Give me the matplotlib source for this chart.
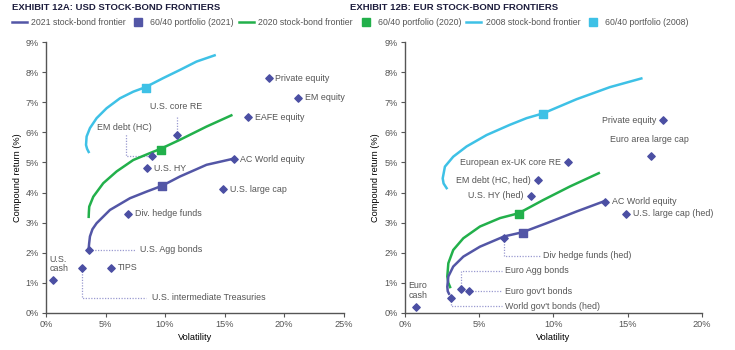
import matplotlib
matplotlib.use("Agg")
import matplotlib.pyplot as plt
from matplotlib.lines import Line2D
from matplotlib.ticker import FuncFormatter

plt.rcParams.update({
    "font.family": ["Liberation Sans", "DejaVu Sans"],
    "font.size": 6.5,
    "axes.edgecolor": "#555555",
    "xtick.color": "#555555",
    "ytick.color": "#555555",
    "text.color": "#555555",
})

NAVY = "#5356a6"
DIAM = "#4b4fa3"
GREEN = "#22b04b"
CYAN = "#3ec1e6"
LEAD = "#9a9ad0"

# ---------------- USD panel data (volatility %, return %) ----------------
usd_2021_vol = [3.58, 3.62, 3.69, 3.9, 4.25, 5.37, 7.05, 8.45, 9.73, 11.24, 13.48, 15.71]
usd_2021_ret = [2.12, 2.3, 2.54, 2.78, 2.98, 3.42, 3.81, 4.03, 4.22, 4.53, 4.92, 5.12]
usd_2020_vol = [3.58, 3.6, 3.63, 3.97, 4.81, 5.93, 7.33, 8.86, 9.62, 11.24, 13.48, 15.66]
usd_2020_ret = [3.15, 3.35, 3.53, 3.86, 4.31, 4.7, 5.08, 5.33, 5.45, 5.75, 6.19, 6.58]
usd_2008_vol = [3.63, 3.45, 3.36, 3.41, 3.69, 4.25, 5.09, 6.21, 7.33, 8.36, 9.84, 11.24, 12.64, 14.26]
usd_2008_ret = [5.31, 5.45, 5.58, 5.86, 6.14, 6.47, 6.8, 7.13, 7.35, 7.5, 7.8, 8.07, 8.35, 8.57]
usd_6040 = {"2021": (9.73, 4.2), "2020": (9.62, 5.42), "2008": (8.36, 7.47)}

usd_names = ["Private equity", "EM equity", "EAFE equity", "U.S. core RE", "EM debt (HC)",
             "U.S. HY", "AC World equity", "U.S. large cap", "Div. hedge funds",
             "U.S. Agg bonds", "TIPS", "U.S. intermediate Treasuries", "U.S.\ncash"]
usd_vol = [18.7, 21.2, 17.0, 11.0, 8.9, 8.5, 15.75, 14.9, 6.9, 3.58, 5.45, 3.0, 0.6]
usd_ret = [7.8, 7.15, 6.5, 5.9, 5.2, 4.8, 5.1, 4.1, 3.3, 2.1, 1.5, 1.5, 1.1]

# ---------------- EUR panel data ----------------
eur_2021_vol = [3.0, 2.88, 2.85, 2.92, 3.25, 3.93, 5.05, 6.67, 7.92, 9.54, 11.56, 13.47]
eur_2021_ret = [0.6, 0.72, 0.87, 1.21, 1.54, 1.87, 2.2, 2.54, 2.68, 2.98, 3.37, 3.72]
eur_2020_vol = [3.07, 2.92, 2.85, 2.92, 3.25, 3.93, 5.05, 6.4, 7.65, 9.31, 11.11, 13.13]
eur_2020_ret = [0.82, 1.0, 1.21, 1.65, 2.09, 2.48, 2.87, 3.15, 3.31, 3.75, 4.2, 4.66]
eur_2008_vol = [2.85, 2.6, 2.54, 2.69, 3.25, 4.15, 5.5, 7.07, 8.19, 9.31, 11.56, 13.8, 16.0]
eur_2008_ret = [4.11, 4.3, 4.47, 4.86, 5.19, 5.53, 5.91, 6.25, 6.47, 6.63, 7.1, 7.5, 7.8]
eur_6040 = {"2021": (7.95, 2.66), "2020": (7.68, 3.3), "2008": (9.31, 6.6)}

eur_names = ["Private equity", "Euro area large cap", "European ex-UK core RE",
             "EM debt (HC, hed)", "U.S. HY (hed)", "AC World equity", "U.S. large cap (hed)",
             "Div hedge funds (hed)", "Euro Agg bonds", "Euro gov't bonds",
             "World gov't bonds (hed)", "Euro\ncash"]
eur_vol = [17.4, 16.6, 11.0, 8.95, 8.5, 13.5, 14.9, 6.7, 3.8, 4.3, 3.1, 0.75]
eur_ret = [6.4, 5.2, 5.0, 4.4, 3.9, 3.7, 3.3, 2.5, 0.8, 0.72, 0.5, 0.2]

fig = plt.figure(figsize=(7.35, 3.5), dpi=100)
ax1 = fig.add_axes([0.0626, 0.106, 0.405, 0.774])
ax2 = fig.add_axes([0.551, 0.106, 0.404, 0.774])

pct = FuncFormatter(lambda v, _: f"{v:.0f}%")


def style(ax, xmax, xstep):
    ax.set_xlim(0, xmax)
    ax.set_ylim(0, 9)
    ax.set_xticks(range(0, xmax + 1, xstep))
    ax.set_yticks(range(0, 10))
    ax.xaxis.set_major_formatter(pct)
    ax.yaxis.set_major_formatter(pct)
    for s in ["top", "right"]:
        ax.spines[s].set_visible(False)
    ax.spines["left"].set_linewidth(1.0)
    ax.spines["bottom"].set_linewidth(1.0)
    ax.tick_params(length=3, width=0.8, labelsize=6.6, pad=2)
    ax.set_xlabel("Volatility", fontsize=6.6, labelpad=3)
    ax.set_ylabel("Compound return (%)", fontsize=6.6, labelpad=3)


def frontiers(ax, f21, f20, f08, p):
    kw = dict(lw=1.8, solid_capstyle="butt", solid_joinstyle="round", zorder=2)
    ax.plot(*f08, color=CYAN, **kw)
    ax.plot(*f20, color=GREEN, **kw)
    ax.plot(*f21, color=NAVY, **kw)
    ax.scatter(*p["2008"], marker="s", s=40, color=CYAN, zorder=4)
    ax.scatter(*p["2020"], marker="s", s=40, color=GREEN, zorder=4)
    ax.scatter(*p["2021"], marker="s", s=40, color=NAVY, zorder=4)


def lead(ax, xs, ys):
    ax.plot(xs, ys, color=LEAD, lw=0.9, ls=(0, (1, 1.2)), zorder=1)


style(ax1, 25, 5)
frontiers(ax1, (usd_2021_vol, usd_2021_ret), (usd_2020_vol, usd_2020_ret),
          (usd_2008_vol, usd_2008_ret), usd_6040)
ax1.scatter(usd_vol, usd_ret, marker="D", s=14, color=DIAM, zorder=3)

fs = 6.4
u = dict(zip(usd_names, zip(usd_vol, usd_ret)))
for n in ["Private equity", "EM equity", "EAFE equity", "U.S. HY", "AC World equity",
          "U.S. large cap", "Div. hedge funds", "TIPS"]:
    x, y = u[n]
    ax1.text(x + 0.55, y, n, fontsize=fs, va="center", ha="left")
x, y = u["U.S. core RE"]
lead(ax1, [x, x], [y + 0.1, 6.55])
ax1.text(x - 0.1, 6.85, "U.S. core RE", fontsize=fs, ha="center", va="center")
x, y = u["EM debt (HC)"]
lead(ax1, [x - 0.2, 6.7, 6.7], [y, y, 5.95])
ax1.text(6.6, 6.15, "EM debt (HC)", fontsize=fs, ha="center", va="center")
x, y = u["U.S. Agg bonds"]
lead(ax1, [x + 0.3, 7.5], [y, y])
ax1.text(7.9, y, "U.S. Agg bonds", fontsize=fs, va="center")
x, y = u["U.S. intermediate Treasuries"]
lead(ax1, [x, x, 8.4], [y - 0.1, 0.5, 0.5])
ax1.text(8.9, 0.5, "U.S. intermediate Treasuries", fontsize=fs, va="center")
ax1.text(0.3, 1.62, "U.S.\ncash", fontsize=fs, va="center", ha="left", linespacing=1.1)

style(ax2, 20, 5)
frontiers(ax2, (eur_2021_vol, eur_2021_ret), (eur_2020_vol, eur_2020_ret),
          (eur_2008_vol, eur_2008_ret), eur_6040)
ax2.scatter(eur_vol, eur_ret, marker="D", s=14, color=DIAM, zorder=3)

e = dict(zip(eur_names, zip(eur_vol, eur_ret)))
for n in ["Private equity", "European ex-UK core RE", "EM debt (HC, hed)", "U.S. HY (hed)"]:
    x, y = e[n]
    ax2.text(x - 0.5, y, n, fontsize=fs, va="center", ha="right")
for n in ["AC World equity", "U.S. large cap (hed)"]:
    x, y = e[n]
    ax2.text(x + 0.45, y, n, fontsize=fs, va="center", ha="left")
x, y = e["Euro area large cap"]
ax2.text(x - 0.15, 5.75, "Euro area large cap", fontsize=fs, ha="center", va="center")
x, y = e["Div hedge funds (hed)"]
lead(ax2, [x, x, 9.1], [y - 0.1, 1.9, 1.9])
ax2.text(9.3, 1.9, "Div hedge funds (hed)", fontsize=fs, va="center")
x, y = e["Euro Agg bonds"]
lead(ax2, [x, x, 6.55], [y + 0.1, 1.4, 1.4])
ax2.text(6.75, 1.4, "Euro Agg bonds", fontsize=fs, va="center")
x, y = e["Euro gov't bonds"]
lead(ax2, [x + 0.2, 6.55], [y, y])
ax2.text(6.75, y, "Euro gov't bonds", fontsize=fs, va="center")
x, y = e["World gov't bonds (hed)"]
lead(ax2, [x, x, 6.55], [y - 0.1, 0.22, 0.22])
ax2.text(6.75, 0.22, "World gov't bonds (hed)", fontsize=fs, va="center")
ax2.text(0.25, 0.75, "Euro\ncash", fontsize=fs, va="center", ha="left", linespacing=1.1)

# titles
fig.text(0.017, 0.978, "EXHIBIT 12A: USD STOCK-BOND FRONTIERS", fontsize=6.8,
         fontweight="bold", color="#1d1d3d", va="center")
fig.text(0.476, 0.978, "EXHIBIT 12B: EUR STOCK-BOND FRONTIERS", fontsize=6.8,
         fontweight="bold", color="#1d1d3d", va="center")

handles = [
    Line2D([], [], color=NAVY, lw=1.8),
    Line2D([], [], color=NAVY, marker="s", ls="none", ms=5.5),
    Line2D([], [], color=GREEN, lw=1.8),
    Line2D([], [], color=GREEN, marker="s", ls="none", ms=5.5),
    Line2D([], [], color=CYAN, lw=1.8),
    Line2D([], [], color=CYAN, marker="s", ls="none", ms=5.5),
]
labels = ["2021 stock-bond frontier", "60/40 portfolio (2021)", "2020 stock-bond frontier",
          "60/40 portfolio (2020)", "2008 stock-bond frontier", "60/40 portfolio (2008)"]
fig.legend(handles, labels, loc="center left", bbox_to_anchor=(0.016, 0.936), ncol=6,
           frameon=False, fontsize=6.3, handlelength=1.7, handletextpad=0.5,
           columnspacing=0.6, borderaxespad=0, borderpad=0)

fig.savefig("out.png", dpi=100)
